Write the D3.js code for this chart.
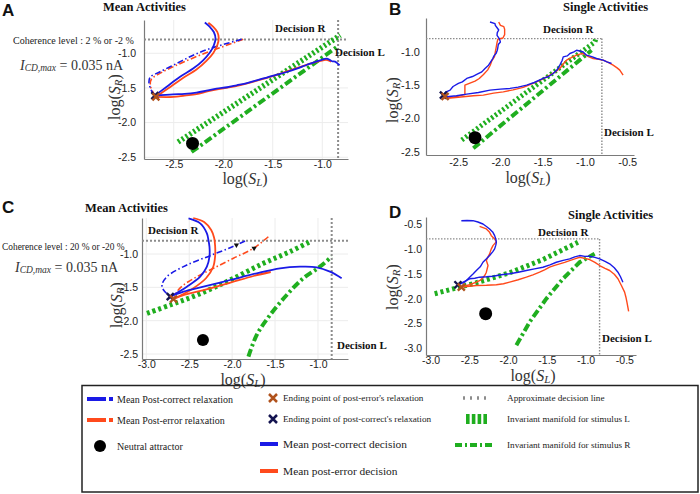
<!DOCTYPE html>
<html><head><meta charset="utf-8">
<script src="https://cdn.jsdelivr.net/npm/d3@7"></script>
<style>body{margin:0;background:#fff}svg{display:block}</style>
</head><body>
<svg id="chart" width="700" height="494"></svg>
<script>
// ---------------- DATA ----------------
const coherenceA = "Coherence level : 2 % or -2 %";
const coherenceC = "Coherence level : 20 % or -20 %";
const titlesAC = "Mean Activities";
const titlesBD = "Single Activities";

const xTicksA = [-2.5, -2.0, -1.5, -1.0];
const yTicksA = [-2.5, -2.0, -1.5, -1.0];
const xTicksB = [-2.5, -2.0, -1.5, -1.0, -0.5];
const yTicksB = [-2.5, -2.0, -1.5, -1.0];
const xTicksC = [-3.0, -2.5, -2.0, -1.5, -1.0];
const yTicksC = [-2.5, -2.0, -1.5, -1.0];
const xTicksD = [-3.0, -2.5, -2.0, -1.5, -1.0, -0.5];
const yTicksD = [-3.0, -2.5, -2.0, -1.5, -1.0, -0.5];

// decision thresholds [x (log S_L), y (log S_R)]
const decisionA = [-0.84, -0.8];
const decisionB = [-0.80, -0.8];
const decisionC = [-0.84, -0.8];
const decisionD = [-0.82, -0.8];

// neutral attractors
const attractorA = [-2.31, -2.30];
const attractorB = [-2.30, -2.29];
const attractorC = [-2.34, -2.29];
const attractorD = [-2.29, -2.30];

// ending points [post-correct (navy), post-error (brown)]
const endCorrectA = [-2.69, -1.61], endErrorA = [-2.68, -1.63];
const endCorrectB = [-2.674, -1.649], endErrorB = [-2.654, -1.67];
const endCorrectC = [-2.721, -1.64], endErrorC = [-2.683, -1.675];
const endCorrectD = [-2.648, -1.72], endErrorD = [-2.604, -1.768];

// Panel A
const aCorrR = [[-2.69,-1.61],[-2.574,-1.486],[-2.439,-1.342],[-2.304,-1.221],[-2.203,-1.101],[-2.135,-0.99],[-2.095,-0.885],[-2.078,-0.788],[-2.095,-0.693],[-2.135,-0.62],[-2.186,-0.557]];
const aErrR = [[-2.68,-1.63],[-2.55,-1.50],[-2.41,-1.36],[-2.27,-1.235],[-2.17,-1.11],[-2.10,-0.995],[-2.06,-0.885],[-2.045,-0.785],[-2.06,-0.69],[-2.10,-0.62],[-2.15,-0.56]];
const aCorrL = [[-2.69,-1.61],[-2.507,-1.592],[-2.39,-1.585],[-2.27,-1.567],[-2.17,-1.54],[-2.067,-1.51],[-1.96,-1.49],[-1.865,-1.462],[-1.76,-1.43],[-1.662,-1.39],[-1.56,-1.35],[-1.46,-1.308],[-1.36,-1.27],[-1.257,-1.221],[-1.18,-1.18],[-1.122,-1.149],[-1.021,-1.101],[-0.953,-1.077],[-0.902,-1.115],[-0.87,-1.12],[-0.852,-1.139],[-0.825,-1.173]];
const aErrL = [[-2.68,-1.63],[-2.5,-1.63],[-2.39,-1.61],[-2.27,-1.59],[-2.16,-1.55],[-2.06,-1.52],[-1.86,-1.47],[-1.66,-1.395],[-1.46,-1.31],[-1.26,-1.215],[-1.12,-1.15],[-1.02,-1.11],[-0.96,-1.095],[-0.91,-1.12]];
const aCorrRelax = [[-1.814,-0.798],[-1.966,-0.86],[-2.135,-0.932],[-2.304,-1.029],[-2.473,-1.149],[-2.642,-1.27],[-2.736,-1.342],[-2.75,-1.414],[-2.726,-1.534],[-2.69,-1.61]];
const aErrRelax = [[-1.798,-0.798],[-1.966,-0.885],[-2.135,-0.971],[-2.304,-1.067],[-2.473,-1.173],[-2.625,-1.279],[-2.726,-1.375],[-2.736,-1.462],[-2.71,-1.558],[-2.682,-1.63]];
const aManifoldL = [[-2.456,-2.28],[-0.818,-0.74]];
const aManifoldR = [[-2.32,-2.424],[-0.852,-0.909]];

// Panel B
const bCorrR = [[-2.674,-1.649],[-2.64,-1.60],[-2.595,-1.574],[-2.56,-1.52],[-2.497,-1.474],[-2.45,-1.45],[-2.398,-1.399],[-2.33,-1.37],[-2.28,-1.339],[-2.22,-1.30],[-2.182,-1.249],[-2.14,-1.20],[-2.115,-1.15],[-2.09,-1.10],[-2.076,-1.06],[-2.05,-1.02],[-2.037,-0.975],[-2.03,-0.93],[-2.025,-0.889],[-2.00,-0.85],[-2.013,-0.799],[-2.04,-0.75],[-2.037,-0.709],[-2.02,-0.67],[-2.037,-0.64],[-2.06,-0.60],[-2.064,-0.574],[-2.123,-0.55]];
const bErrR = [[-2.66,-1.70],[-2.55,-1.68],[-2.42,-1.64],[-2.42,-1.55],[-2.42,-1.50],[-2.36,-1.47],[-2.30,-1.44],[-2.25,-1.40],[-2.20,-1.34],[-2.15,-1.27],[-2.12,-1.20],[-2.10,-1.13],[-2.07,-1.07],[-2.06,-1.00],[-2.05,-0.93],[-2.04,-0.86],[-2.03,-0.81],[-1.97,-0.79],[-1.95,-0.74],[-1.95,-0.66],[-1.96,-0.62],[-2.00,-0.60],[-2.02,-0.55]];
const bCorrL = [[-2.674,-1.649],[-2.634,-1.675],[-2.52,-1.66],[-2.398,-1.634],[-2.26,-1.61],[-2.123,-1.574],[-2.00,-1.56],[-1.887,-1.549],[-1.79,-1.53],[-1.69,-1.499],[-1.60,-1.46],[-1.494,-1.399],[-1.43,-1.37],[-1.376,-1.324],[-1.33,-1.27],[-1.297,-1.199],[-1.27,-1.13],[-1.257,-1.075],[-1.21,-1.06],[-1.178,-1.024],[-1.13,-1.00],[-1.099,-0.975],[-1.05,-0.99],[-1.021,-1.00],[-0.981,-1.049],[-0.92,-1.07],[-0.863,-1.099],[-0.785,-1.124],[-0.74,-1.15],[-0.686,-1.174]];
const bErrL = [[-2.674,-1.699],[-2.56,-1.69],[-2.438,-1.675],[-2.32,-1.66],[-2.202,-1.649],[-2.08,-1.62],[-1.966,-1.60],[-1.85,-1.57],[-1.73,-1.534],[-1.65,-1.49],[-1.572,-1.45],[-1.49,-1.40],[-1.415,-1.349],[-1.35,-1.30],[-1.297,-1.249],[-1.25,-1.17],[-1.218,-1.124],[-1.15,-1.08],[-1.099,-1.049],[-1.05,-1.03],[-1.021,-1.024],[-0.96,-1.07],[-0.903,-1.099],[-0.84,-1.11],[-0.785,-1.124],[-0.72,-1.16],[-0.667,-1.199],[-0.62,-1.24],[-0.588,-1.274],[-0.549,-1.349]];
const bManifoldL = [[-2.457,-2.324],[-0.883,-0.85],[-0.87,-0.80]];
const bManifoldR = [[-2.32,-2.448],[-0.922,-0.975]];

// Panel C
const cCorrR = [[-2.721,-1.64],[-2.527,-1.49],[-2.372,-1.34],[-2.294,-1.19],[-2.264,-1.04],[-2.264,-0.891],[-2.276,-0.79],[-2.294,-0.69],[-2.372,-0.54],[-2.508,-0.465]];
const cErrR = [[-2.683,-1.675],[-2.465,-1.525],[-2.302,-1.36],[-2.221,-1.195],[-2.198,-1.03],[-2.198,-0.88],[-2.209,-0.76],[-2.244,-0.64],[-2.326,-0.52],[-2.453,-0.46]];
const cCorrL = [[-2.721,-1.64],[-2.566,-1.565],[-2.334,-1.49],[-2.023,-1.39],[-1.713,-1.289],[-1.442,-1.214],[-1.209,-1.19],[-1.015,-1.199],[-0.86,-1.265],[-0.724,-1.364]];
const cErrL = [[-2.683,-1.675],[-2.55,-1.61],[-2.30,-1.53],[-2.02,-1.43],[-1.75,-1.33],[-1.55,-1.27]];
const cCorrRelax = [[-1.849,-0.805],[-2.023,-0.905],[-2.256,-1.025],[-2.527,-1.165],[-2.76,-1.34],[-2.817,-1.465],[-2.799,-1.54],[-2.721,-1.64]];
const cErrRelax = [[-1.578,-0.741],[-1.752,-0.915],[-1.985,-1.064],[-2.217,-1.214],[-2.41,-1.34],[-2.566,-1.465],[-2.643,-1.565],[-2.683,-1.675]];
const cRelaxArrows = [[-1.95,-0.865],[-1.744,-0.915]];
const cManifoldL = [[-2.992,-1.889],[-2.721,-1.765],[-2.41,-1.615],[-2.023,-1.39],[-1.636,-1.14],[-1.326,-0.965],[-1.093,-0.815]];
const cManifoldR = [[-1.81,-2.54],[-1.713,-2.214],[-1.558,-1.915],[-1.364,-1.615],[-1.171,-1.365],[-0.977,-1.19],[-0.841,-1.04]];

// Panel D
const dCorrR = [[-2.648,-1.72],[-2.561,-1.668],[-2.497,-1.568],[-2.45,-1.50],[-2.41,-1.434],[-2.36,-1.36],[-2.325,-1.268],[-2.28,-1.20],[-2.239,-1.134],[-2.20,-1.06],[-2.174,-1.0],[-2.16,-0.93],[-2.152,-0.868],[-2.16,-0.80],[-2.174,-0.734],[-2.20,-0.66],[-2.239,-0.60],[-2.28,-0.55],[-2.325,-0.50],[-2.39,-0.46],[-2.454,-0.434],[-2.53,-0.43],[-2.604,-0.434]];
const dErrR = [[-2.604,-1.768],[-2.50,-1.72],[-2.41,-1.668],[-2.35,-1.62],[-2.30,-1.53],[-2.281,-1.468],[-2.26,-1.334],[-2.281,-1.234],[-2.26,-1.16],[-2.239,-1.10],[-2.22,-1.01],[-2.196,-0.934],[-2.152,-0.854],[-2.18,-0.79],[-2.217,-0.734],[-2.239,-0.668],[-2.281,-0.60],[-2.368,-0.548]];
const dCorrL = [[-2.648,-1.72],[-2.626,-1.70],[-2.497,-1.60],[-2.43,-1.59],[-2.368,-1.568],[-2.28,-1.56],[-2.196,-1.548],[-2.09,-1.52],[-1.981,-1.50],[-1.87,-1.47],[-1.765,-1.434],[-1.66,-1.40],[-1.551,-1.368],[-1.46,-1.32],[-1.378,-1.268],[-1.29,-1.23],[-1.206,-1.20],[-1.14,-1.16],[-1.077,-1.134],[-1.01,-1.15],[-0.948,-1.148],[-0.88,-1.17],[-0.819,-1.20],[-0.75,-1.25],[-0.69,-1.30],[-0.63,-1.38],[-0.583,-1.468],[-0.55,-1.56],[-0.519,-1.668]];
const dErrL = [[-2.604,-1.768],[-2.50,-1.75],[-2.41,-1.734],[-2.28,-1.73],[-2.152,-1.72],[-2.06,-1.70],[-1.981,-1.668],[-1.87,-1.62],[-1.765,-1.568],[-1.68,-1.52],[-1.594,-1.468],[-1.53,-1.42],[-1.465,-1.368],[-1.40,-1.33],[-1.335,-1.30],[-1.27,-1.27],[-1.206,-1.234],[-1.14,-1.20],[-1.077,-1.168],[-1.01,-1.19],[-0.948,-1.214],[-0.88,-1.27],[-0.819,-1.334],[-0.75,-1.39],[-0.69,-1.434],[-0.63,-1.51],[-0.583,-1.60],[-0.54,-1.73],[-0.497,-1.868],[-0.48,-1.97],[-0.467,-2.068],[-0.445,-2.254]];
const dManifoldL = [[-2.948,-1.90],[-2.41,-1.68],[-1.981,-1.48],[-1.551,-1.214],[-1.099,-0.868]];
const dManifoldR = [[-1.894,-2.934],[-1.723,-2.468],[-1.507,-2.0],[-1.293,-1.60],[-1.077,-1.268],[-0.884,-1.10]];

// Legend
const legendCol1 = ["Mean Post-correct relaxation", "Mean Post-error relaxation", "Neutral attractor"];
const legendCol2 = ["Ending point of post-error's relaxation", "Ending point of post-correct's relaxation", "Mean post-correct decision", "Mean post-error decision"];
const legendCol3 = ["Approximate decision line", "Invariant manifold for stimulus L", "Invariant manifold for stimulus R"];

// ---------------- STYLE ----------------
const BLUE = "#1a1ae6", RED = "#ff4a1c", GREEN = "#1fae1f", NAVY = "#141450", BROWN = "#b0521c", GRAY = "#8c8c8c";
const SERIF = "'Liberation Serif','Times New Roman',serif";
const SANS = "'Liberation Sans',Arial,sans-serif";

const svg = d3.select("#chart");

function addLogLabel(parent, x, y, sub, rotate) {
  const t = parent.append("text").attr("font-family", SERIF).attr("font-size", 16).attr("fill", "#333")
    .attr("text-anchor", "middle").attr("dominant-baseline", "central")
    .attr("transform", `translate(${x},${y})` + (rotate ? " rotate(-90)" : ""));
  t.append("tspan").text("log(");
  t.append("tspan").attr("font-style", "italic").text("S");
  t.append("tspan").attr("font-style", "italic").attr("font-size", 11).attr("dy", 4).text(sub);
  t.append("tspan").attr("dy", -4).text(")");
}

function addICD(x, y) {
  const t = svg.append("text").attr("font-family", SERIF).attr("font-size", 14).attr("fill", "#333")
    .attr("x", x).attr("y", y).attr("dominant-baseline", "central");
  t.append("tspan").attr("font-style", "italic").text("I");
  t.append("tspan").attr("font-style", "italic").attr("font-size", 9.5).attr("dy", 3).text("CD,max");
  t.append("tspan").attr("dy", -3).text(" = 0.035 nA");
}

function txt(x, y, s, size, opts = {}) {
  return svg.append("text").attr("x", x).attr("y", y).attr("font-family", opts.family || SERIF)
    .attr("font-size", size).attr("font-weight", opts.bold ? "bold" : "normal")
    .attr("fill", opts.fill || "#111").attr("dominant-baseline", "central")
    .attr("text-anchor", opts.anchor || "start").text(s);
}

function drawPanel(p) {
  const x = d3.scaleLinear().domain(p.xd).range(p.xr);
  const y = d3.scaleLinear().domain(p.yd).range(p.yr);
  const g = svg.append("g");
  if (p.grid) {
    g.selectAll(".gx").data(p.xt).join("line").attr("x1", d => x(d)).attr("x2", d => x(d))
      .attr("y1", p.yr[0]).attr("y2", p.yr[1]).attr("stroke", "#ececec").attr("stroke-width", 1);
    g.selectAll(".gy").data(p.yt).join("line").attr("y1", d => y(d)).attr("y2", d => y(d))
      .attr("x1", p.xr[0]).attr("x2", p.xr[1]).attr("stroke", "#ececec").attr("stroke-width", 1);
  }
  const xa = d3.axisBottom(x).tickValues(p.xt).tickSize(0).tickSizeOuter(0).tickPadding(p.xpad).tickFormat(d => d.toFixed(1));
  const ya = d3.axisLeft(y).tickValues(p.yt).tickSize(0).tickSizeOuter(0).tickPadding(p.ypad).tickFormat(d => d.toFixed(1));
  const gx = g.append("g").attr("transform", `translate(0,${p.yr[0]})`).call(xa);
  const gy = g.append("g").attr("transform", `translate(${p.xr[0]},0)`).call(ya);
  [gx, gy].forEach(a => {
    a.select(".domain").attr("stroke", "#7a7a7a").attr("stroke-width", 1.2);
    a.selectAll("text").attr("font-family", SANS).attr("font-size", p.tickFont).attr("fill", "#222");
  });

  // decision lines
  const dx = p.decision[0], dy = p.decision[1];
  const dl = g.append("g").attr("stroke", GRAY).attr("stroke-width", p.dW).attr("stroke-dasharray", p.dDash).attr("fill", "none");
  if (p.corner) {
    dl.append("line").attr("x1", x(p.xd[0])).attr("x2", x(dx)).attr("y1", y(dy)).attr("y2", y(dy));
    dl.append("line").attr("x1", x(dx)).attr("x2", x(dx)).attr("y1", y(dy)).attr("y2", y(p.yd[0]));
  } else {
    dl.append("line").attr("x1", x(p.xd[0])).attr("x2", x(p.xd[1])).attr("y1", y(dy)).attr("y2", y(dy));
    dl.append("line").attr("x1", x(dx)).attr("x2", x(dx)).attr("y1", y(p.yd[1])).attr("y2", y(p.yd[0]));
  }

  const smooth = d3.line().x(d => x(d[0])).y(d => y(d[1])).curve(p.smooth ? d3.curveCatmullRom.alpha(0.5) : d3.curveLinear);

  // manifolds
  g.append("path").attr("d", smooth(p.manL)).attr("fill", "none").attr("stroke", GREEN)
    .attr("stroke-width", p.mLW).attr("stroke-dasharray", p.mLDash);
  g.append("path").attr("d", smooth(p.manR)).attr("fill", "none").attr("stroke", GREEN)
    .attr("stroke-width", p.mRW).attr("stroke-dasharray", p.mRDash);

  // attractor
  g.append("circle").attr("cx", x(p.attractor[0])).attr("cy", y(p.attractor[1])).attr("r", p.dotR).attr("fill", "#000");

  // relaxation (dash-dot)
  if (p.relaxC) {
    g.append("path").attr("d", smooth(p.relaxE)).attr("fill", "none").attr("stroke", RED).attr("stroke-width", 1.6).attr("stroke-dasharray", "6,2.5,1.5,2.5");
    g.append("path").attr("d", smooth(p.relaxC)).attr("fill", "none").attr("stroke", BLUE).attr("stroke-width", 1.6).attr("stroke-dasharray", "6,2.5,1.5,2.5");
  }
  if (p.arrows) {
    g.selectAll(".arr").data(p.arrows).join("path")
      .attr("d", d3.symbol(d3.symbolTriangle, 12)())
      .attr("transform", d => `translate(${x(d[0])},${y(d[1])}) rotate(60)`).attr("fill", "#111");
  }

  // decision trajectories
  const lw = p.lineW;
  [[p.errR, RED], [p.errL, RED], [p.corrR, BLUE], [p.corrL, BLUE]].forEach(([data, c]) => {
    g.append("path").attr("d", smooth(data)).attr("fill", "none").attr("stroke", c).attr("stroke-width", lw).attr("stroke-linejoin", "round");
  });

  // ending markers
  const cross = (pt, col) => {
    const cx = x(pt[0]), cy = y(pt[1]), s = 3.5;
    g.append("path").attr("d", `M${cx - s},${cy - s}L${cx + s},${cy + s}M${cx - s},${cy + s}L${cx + s},${cy - s}`)
      .attr("stroke", col).attr("stroke-width", 2.4).attr("fill", "none");
  };
  cross(p.endC, NAVY);
  cross(p.endE, BROWN);

  addLogLabel(svg, p.ylab[0], p.ylab[1], "R", true);
  addLogLabel(svg, p.xlab[0], p.xlab[1], "L", false);
}

drawPanel({
  xd: [-2.80, -0.74], xr: [144, 348], yd: [-2.525, -0.52], yr: [159, 20],
  xt: xTicksA, yt: yTicksA, grid: true, xpad: 2, ypad: 8, tickFont: 10.5,
  decision: decisionA, corner: false, dW: 2, dDash: "2,2",
  smooth: true, manL: aManifoldL, manR: aManifoldR, mLW: 5.5, mLDash: "2.2,2.4", mRW: 4, mRDash: "8,3,2.5,3",
  attractor: attractorA, dotR: 6.5,
  relaxC: aCorrRelax, relaxE: aErrRelax,
  corrR: aCorrR, errR: aErrR, corrL: aCorrL, errL: aErrL, lineW: 1.8,
  endC: endCorrectA, endE: endErrorA, ylab: [114, 97], xlab: [245, 178]
});
drawPanel({
  xd: [-2.88, -0.42], xr: [426, 634], yd: [-2.55, -0.49], yr: [155, 18],
  xt: xTicksB, yt: yTicksB, grid: false, xpad: 3, ypad: 6, tickFont: 11,
  decision: decisionB, corner: true, dW: 1.4, dDash: "1.5,1.5",
  smooth: false, manL: bManifoldL, manR: bManifoldR, mLW: 5, mLDash: "2.2,2.4", mRW: 4, mRDash: "8,3,2.5,3",
  attractor: attractorB, dotR: 6.5,
  corrR: bCorrR, errR: bErrR, corrL: bCorrL, errL: bErrL, lineW: 1.4,
  endC: endCorrectB, endE: endErrorB, ylab: [392, 100], xlab: [528, 177]
});
drawPanel({
  xd: [-3.05, -0.65], xr: [142, 348], yd: [-2.575, -0.46], yr: [359, 218],
  xt: xTicksC, yt: yTicksC, grid: true, xpad: 2, ypad: 4, tickFont: 10.5,
  decision: decisionC, corner: false, dW: 2, dDash: "2,2",
  smooth: true, manL: cManifoldL, manR: cManifoldR, mLW: 5, mLDash: "3,3", mRW: 4, mRDash: "8,3,2.5,3",
  attractor: attractorC, dotR: 6,
  relaxC: cCorrRelax, relaxE: cErrRelax, arrows: cRelaxArrows,
  corrR: cCorrR, errR: cErrR, corrL: cCorrL, errL: cErrL, lineW: 1.8,
  endC: endCorrectC, endE: endErrorC, ylab: [116, 305], xlab: [243, 379]
});
drawPanel({
  xd: [-3.06, -0.35], xr: [426, 636], yd: [-3.13, -0.36], yr: [355, 217],
  xt: xTicksD, yt: yTicksD, grid: false, xpad: 2, ypad: 4, tickFont: 10.5,
  decision: decisionD, corner: true, dW: 1.4, dDash: "1.5,1.5",
  smooth: false, manL: dManifoldL, manR: dManifoldR, mLW: 5, mLDash: "3,3", mRW: 4, mRDash: "8,3,2.5,3",
  attractor: attractorD, dotR: 6.5,
  corrR: dCorrR, errR: dErrR, corrL: dCorrL, errL: dErrL, lineW: 1.4,
  endC: endCorrectD, endE: endErrorD, ylab: [392, 287], xlab: [533, 375]
});

// panel letters & titles
txt(2, 10, "A", 17, {bold: true, family: SANS});
txt(389, 9, "B", 17, {bold: true, family: SANS});
txt(2, 207, "C", 17, {bold: true, family: SANS});
txt(389, 212, "D", 17, {bold: true, family: SANS});
txt(103, 7, titlesAC, 12.5, {bold: true});
txt(563, 7, titlesBD, 12.5, {bold: true});
txt(85, 208, titlesAC, 12.5, {bold: true});
txt(568, 215, titlesBD, 12.5, {bold: true});

// decision text
txt(275, 28, "Decision R", 11, {bold: true});
txt(335, 52, "Decision L", 11, {bold: true});
txt(543, 29, "Decision R", 11, {bold: true});
txt(604, 132, "Decision L", 11, {bold: true});
txt(148, 230, "Decision R", 11, {bold: true});
txt(337, 345, "Decision L", 11, {bold: true});
txt(538, 232, "Decision R", 11, {bold: true});
txt(602, 338, "Decision L", 11, {bold: true});

// annotations
txt(13, 40, coherenceA, 10, {fill: "#222"});
txt(2, 247, coherenceC, 9.4, {fill: "#222"});
addICD(20, 65);
addICD(15, 267);

// ---------------- LEGEND ----------------
svg.append("rect").attr("x", 82).attr("y", 385.5).attr("width", 616).attr("height", 106.5)
  .attr("fill", "none").attr("stroke", "#222").attr("stroke-width", 1.5);
// col 1
const l1y = [399, 420, 446];
svg.append("line").attr("x1", 87).attr("x2", 113).attr("y1", l1y[0]).attr("y2", l1y[0]).attr("stroke", BLUE).attr("stroke-width", 4).attr("stroke-dasharray", "19,3,4,3");
svg.append("line").attr("x1", 87).attr("x2", 113).attr("y1", l1y[1]).attr("y2", l1y[1]).attr("stroke", RED).attr("stroke-width", 4).attr("stroke-dasharray", "19,3,4,3");
svg.append("circle").attr("cx", 100).attr("cy", l1y[2]).attr("r", 6).attr("fill", "#000");
legendCol1.forEach((s, i) => txt(117, l1y[i], s, 10, {fill: "#222"}));
// col 2
const l2y = [398, 419, 444, 471];
const lcross = (cx, cy, col) => svg.append("path").attr("d", `M${cx - 4},${cy - 4}L${cx + 4},${cy + 4}M${cx - 4},${cy + 4}L${cx + 4},${cy - 4}`).attr("stroke", col).attr("stroke-width", 2.5);
lcross(273, l2y[0], BROWN);
lcross(273, l2y[1], NAVY);
svg.append("line").attr("x1", 260).attr("x2", 278).attr("y1", l2y[2]).attr("y2", l2y[2]).attr("stroke", BLUE).attr("stroke-width", 4);
svg.append("line").attr("x1", 260).attr("x2", 278).attr("y1", l2y[3]).attr("y2", l2y[3]).attr("stroke", RED).attr("stroke-width", 4);
legendCol2.forEach((s, i) => txt(283, l2y[i], s, i < 2 ? 9.2 : 11.4, {fill: "#222"}));
// col 3
const l3y = [398, 419, 445];
svg.append("line").attr("x1", 463).attr("x2", 490).attr("y1", l3y[0]).attr("y2", l3y[0]).attr("stroke", GRAY).attr("stroke-width", 3.5).attr("stroke-dasharray", "2,5");
svg.append("line").attr("x1", 466).attr("x2", 489).attr("y1", l3y[1]).attr("y2", l3y[1]).attr("stroke", GREEN).attr("stroke-width", 10).attr("stroke-dasharray", "3.6,2.2");
svg.append("line").attr("x1", 455).attr("x2", 493).attr("y1", l3y[2]).attr("y2", l3y[2]).attr("stroke", GREEN).attr("stroke-width", 4).attr("stroke-dasharray", "7,3,2,3");
legendCol3.forEach((s, i) => txt(507, l3y[i], s, 9.2, {fill: "#222"}));
</script>
</body></html>
